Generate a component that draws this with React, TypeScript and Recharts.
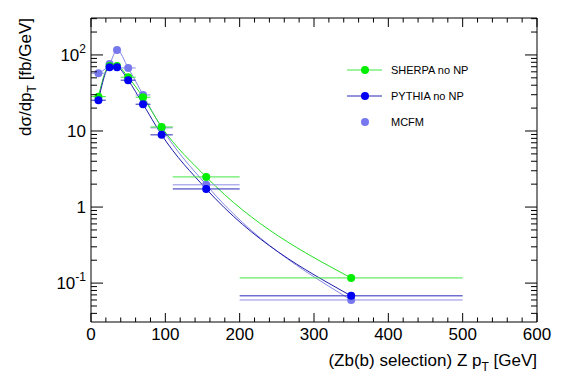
import React from "react";
import { ComposedChart, ErrorBar, Legend, Line, Scatter, XAxis, YAxis } from "recharts";

const W = 567;
const H = 384;
const FONT = '"Liberation Sans", Arial, Helvetica, sans-serif';

// Z pT bins [GeV]
const binLow = [0, 20, 30, 40, 60, 80, 110, 200];
const binHigh = [20, 30, 40, 60, 80, 110, 200, 500];
const binCenter = [10, 25, 35, 50, 70, 95, 155, 350];

// dσ/dpT [fb/GeV]
const sherpaNoNP = [28.3, 71.7, 71.7, 50.9, 27.8, 11.3, 2.49, 0.117];
const pythiaNoNP = [25.4, 68.9, 68.9, 46.6, 22.5, 8.9, 1.73, 0.068];
const mcfm = [57.5, 76.2, 116, 67.5, 29.8, 11.0, 1.96, 0.06];

const seriesNames = ["SHERPA no NP", "PYTHIA no NP", "MCFM"];

const xTicks = [
  0, 20, 40, 60, 80, 100, 120, 140, 160, 180, 200, 220, 240, 260, 280, 300, 320, 340, 360, 380, 400,
  420, 440, 460, 480, 500, 520, 540, 560, 580, 600,
];
const xMajorTicks = [0, 100, 200, 300, 400, 500, 600];

const yTicks = [
  0.04, 0.05, 0.06, 0.07, 0.08, 0.09, 0.1, 0.2, 0.3, 0.4, 0.5, 0.6, 0.7, 0.8, 0.9, 1, 2, 3, 4, 5, 6, 7,
  8, 9, 10, 20, 30, 40, 50, 60, 70, 80, 90, 100, 200, 300,
];
const yMajorTicks = [0.1, 1, 10, 100];
const yTickBase = ["10", "1", "10", "10"];
const yTickExp = ["-1", "", "", "2"];

const X_DOMAIN = [0, 600];
const Y_DOMAIN = [0.0308, 306];

// ROOT-ish palette
const COLOR = {
  sherpa: { marker: "#00ee00", line: "#22e022", err: "#3fe83f" },
  pythia: { marker: "#0000f2", line: "#1c1ca8", err: "#2828b8" },
  mcfm: { marker: "#7878ee", line: "#8686e6", err: "#8c8ce8" },
  axis: "#000000",
};

const toRows = (vals: number[]) =>
  binCenter.map((x, i) => ({ x, y: vals[i], ex: [x - binLow[i], binHigh[i] - x] }));

const sherpaRows = toRows(sherpaNoNP);
const pythiaRows = toRows(pythiaNoNP);
const mcfmRows = toRows(mcfm);

const legendRows = [
  { name: seriesNames[0], c: COLOR.sherpa, line: true },
  { name: seriesNames[1], c: COLOR.pythia, line: true },
  { name: seriesNames[2], c: COLOR.mcfm, line: false },
];

// with tickSize=0 and tickMargin=0, the tick x/y sit exactly on the axis line
function BottomTick({ x, y, payload }: any) {
  const major = xMajorTicks.includes(payload.value);
  return (
    <g>
      <line x1={x} x2={x} y1={y} y2={y - (major ? 9 : 4.5)} stroke={COLOR.axis} />
      {major && (
        <text x={x} y={y + 17.5} textAnchor="middle" fontSize={17} fontFamily={FONT} fill="#000">
          {payload.value}
        </text>
      )}
    </g>
  );
}

function TopTick({ x, y, payload }: any) {
  const major = xMajorTicks.includes(payload.value);
  return <line x1={x} x2={x} y1={y} y2={y + (major ? 9 : 4.5)} stroke={COLOR.axis} />;
}

function LeftTick({ x, y, payload }: any) {
  const idx = yMajorTicks.indexOf(payload.value);
  const major = idx >= 0;
  return (
    <g>
      <line x1={x} x2={x + (major ? 12 : 6)} y1={y} y2={y} stroke={COLOR.axis} />
      {major && (
        <text x={x - 5} y={y} dy={6} textAnchor="end" fontSize={17} fontFamily={FONT} fill="#000">
          {yTickBase[idx]}
          {yTickExp[idx] && (
            <tspan dy={-8} fontSize={12}>
              {yTickExp[idx]}
            </tspan>
          )}
        </text>
      )}
    </g>
  );
}

function RightTick({ x, y, payload }: any) {
  const major = yMajorTicks.includes(payload.value);
  return <line x1={x} x2={x - (major ? 12 : 6)} y1={y} y2={y} stroke={COLOR.axis} />;
}

const XTitle = () => (
  <text x={537} y={366} textAnchor="end" fontSize={17} fontFamily={FONT} fill="#000">
    (Zb(b) selection) Z p
    <tspan dy={5} fontSize={12}>
      T
    </tspan>
    <tspan dy={-5}> [GeV]</tspan>
  </text>
);

const YTitle = () => (
  <text transform="rotate(-90)" x={-18} y={31} textAnchor="end" fontSize={17} fontFamily={FONT} fill="#000">
    dσ/dp
    <tspan dy={5} fontSize={12}>
      T
    </tspan>
    <tspan dy={-5}> [fb/GeV]</tspan>
  </text>
);

const renderLegend = () => (
  <div style={{ fontFamily: FONT, fontSize: 11, color: "#000" }}>
    {legendRows.map((r) => (
      <div key={r.name} style={{ display: "flex", alignItems: "center", height: 26 }}>
        <svg width={36} height={12}>
          {r.line && <line x1={0} x2={35} y1={6} y2={6} stroke={r.c.err} strokeWidth={1} />}
          <circle cx={18} cy={6} r={4} fill={r.c.marker} />
        </svg>
        <span style={{ marginLeft: 8 }}>{r.name}</span>
      </div>
    ))}
  </div>
);

const dot = (fill: string) => (p: any) => <circle cx={p.cx} cy={p.cy} r={4} fill={fill} />;

export default function App() {
  return (
    <div style={{ position: "fixed", left: 0, top: 0, width: W, height: H, background: "#fff" }}>
      <ComposedChart width={W} height={H} margin={{ top: 0, right: 0, bottom: 0, left: 0 }}>
        <XAxis
          xAxisId={0}
          dataKey="x"
          type="number"
          domain={X_DOMAIN}
          allowDataOverflow
          ticks={xTicks}
          interval={0}
          height={62}
          tickSize={0}
          tickMargin={0}
          tickLine={false}
          axisLine={{ stroke: COLOR.axis }}
          tick={BottomTick}
          label={XTitle}
        />
        <XAxis
          xAxisId="top"
          orientation="top"
          dataKey="x"
          type="number"
          domain={X_DOMAIN}
          allowDataOverflow
          ticks={xTicks}
          interval={0}
          height={18}
          tickSize={0}
          tickMargin={0}
          tickLine={false}
          axisLine={{ stroke: COLOR.axis }}
          tick={TopTick}
        />
        <YAxis
          yAxisId={0}
          scale="log"
          type="number"
          domain={Y_DOMAIN}
          allowDataOverflow
          ticks={yTicks}
          interval={0}
          width={91}
          tickSize={0}
          tickMargin={0}
          tickLine={false}
          axisLine={{ stroke: COLOR.axis }}
          tick={LeftTick}
          label={YTitle}
        />
        <YAxis
          yAxisId="right"
          orientation="right"
          scale="log"
          type="number"
          domain={Y_DOMAIN}
          allowDataOverflow
          ticks={yTicks}
          interval={0}
          width={30}
          tickSize={0}
          tickMargin={0}
          tickLine={false}
          axisLine={{ stroke: COLOR.axis }}
          tick={RightTick}
        />
        <Legend
          layout="vertical"
          align="center"
          verticalAlign="middle"
          wrapperStyle={{ left: 347, top: 57, width: 150 }}
          content={renderLegend}
        />

        <Line
          data={mcfmRows}
          dataKey="y"
          type="monotone"
          stroke={COLOR.mcfm.line}
          strokeWidth={1}
          dot={false}
          activeDot={false}
          isAnimationActive={false}
        />
        <Line
          data={sherpaRows}
          dataKey="y"
          type="monotone"
          stroke={COLOR.sherpa.line}
          strokeWidth={1}
          dot={false}
          activeDot={false}
          isAnimationActive={false}
        />
        <Line
          data={pythiaRows}
          dataKey="y"
          type="monotone"
          stroke={COLOR.pythia.line}
          strokeWidth={1}
          dot={false}
          activeDot={false}
          isAnimationActive={false}
        />

        <Scatter data={mcfmRows} dataKey="y" name={seriesNames[2]} shape={dot(COLOR.mcfm.marker)} isAnimationActive={false}>
          <ErrorBar dataKey="ex" direction="x" width={0} stroke={COLOR.mcfm.err} strokeWidth={1} isAnimationActive={false} />
        </Scatter>
        <Scatter data={sherpaRows} dataKey="y" name={seriesNames[0]} shape={dot(COLOR.sherpa.marker)} isAnimationActive={false}>
          <ErrorBar dataKey="ex" direction="x" width={0} stroke={COLOR.sherpa.err} strokeWidth={1} isAnimationActive={false} />
        </Scatter>
        <Scatter data={pythiaRows} dataKey="y" name={seriesNames[1]} shape={dot(COLOR.pythia.marker)} isAnimationActive={false}>
          <ErrorBar dataKey="ex" direction="x" width={0} stroke={COLOR.pythia.err} strokeWidth={1} isAnimationActive={false} />
        </Scatter>
      </ComposedChart>
    </div>
  );
}
